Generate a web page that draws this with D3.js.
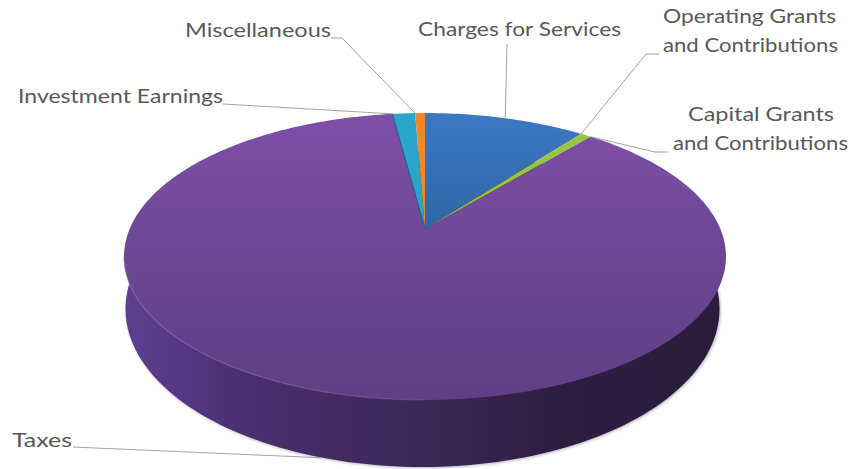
<!DOCTYPE html>
<html>
<head>
<meta charset="utf-8">
<script src="https://cdn.jsdelivr.net/npm/d3@7/dist/d3.min.js"></script>
<style>
  html, body { margin: 0; padding: 0; background: #fff; }
  svg { display: block; }
  text { font-family: Lato, "Liberation Sans", sans-serif; fill: #595959; font-size: 20px; }
</style>
</head>
<body>
<svg id="chart" width="855" height="469"></svg>
<script>
// Revenue shares by source, percent of the total
const categories = ["Charges for Services", "Operating Grants and Contributions", "Capital Grants and Contributions", "Taxes", "Investment Earnings", "Miscellaneous"];
const shares = [10.4, 0.05, 0.65, 86.8, 1.46, 0.64];
const sliceColors = ["url(#blueFace)", "#c0504d", "#93c83d", "url(#purpleFace)", "#2aa5cc", "#f0882a"];

// Where each callout sits: wrapped text lines, leader elbow and which edge of the slice it points to
const callouts = [
  { lines: [{ t: "Charges for Services", x: 418, y: 36, w: 203 }], path: [[507, 44]], edge: "mid", plane: "top" },
  { lines: [{ t: "Operating Grants", x: 663, y: 23, w: 173 }, { t: "and Contributions", x: 663, y: 52, w: 175 }], path: [[659, 54], [646, 54]], edge: "mid", plane: "top" },
  { lines: [{ t: "Capital Grants", x: 688, y: 121, w: 146 }, { t: "and Contributions", x: 673, y: 150, w: 175 }], path: [[668, 152], [655, 152]], edge: "end", plane: "top" },
  { lines: [{ t: "Taxes", x: 12, y: 447, w: 60 }], path: [[73, 447], [95, 448]], edge: "mid", plane: "base" },
  { lines: [{ t: "Investment Earnings", x: 18, y: 103, w: 205 }], path: [[223, 104]], edge: "start", plane: "top" },
  { lines: [{ t: "Miscellaneous", x: 185, y: 37, w: 146 }], path: [[331, 38], [342, 38]], edge: "start", plane: "top" }
];

// Perspective planes of the disc: top face and the lower rim
const planes = {
  top:  { cx: 425, cy: 229, rx: 295.4, ry: 138.2, k: 0.1916 },
  base: { cx: 422.5, cy: 278.7, rx: 291.5, ry: 152.2, k: 0.1916 }
};

function project(angle, plane, radius = 1) {
  const p = planes[plane];
  const X = Math.sin(angle) * radius, Y = Math.cos(angle) * radius;
  const w = 1 + p.k * Y;
  return [p.cx + p.rx * X / w, p.cy - p.ry * Y / w];
}

const svg = d3.select("#chart");
const defs = svg.append("defs");

function linearGradient(id, x1, y1, x2, y2, stops) {
  const g = defs.append("linearGradient").attr("id", id).attr("gradientUnits", "userSpaceOnUse")
    .attr("x1", x1).attr("y1", y1).attr("x2", x2).attr("y2", y2);
  stops.forEach(s => g.append("stop").attr("offset", s[0]).attr("stop-color", s[1]).attr("stop-opacity", s[2] ?? 1));
}
linearGradient("purpleFace", 0, 113, 0, 400, [[0, "#7f4fa8"], [0.5, "#6c4794"], [1, "#5f3f84"]]);
linearGradient("blueFace", 0, 113, 0, 229, [[0, "#3b79c4"], [1, "#2f66a6"]]);
linearGradient("wall", 122, 0, 725, 0, [[0, "#5f3f90"], [0.1, "#553785"], [0.2, "#4a2f70"], [0.35, "#432b62"], [0.55, "#3a2554"], [0.72, "#2d1d40"], [1, "#2b1c3b"]]);
linearGradient("rimLight", 122, 0, 725, 0, [[0, "#8a70b0", 0.7], [0.4, "#8a70b0", 0.5], [0.6, "#8a70b0", 0]]);

const softShadow = defs.append("filter").attr("id", "soft").attr("x", "-5%").attr("y", "-5%").attr("width", "110%").attr("height", "110%");
softShadow.append("feGaussianBlur").attr("stdDeviation", 1.6);

const line = d3.line();
const sweep = (a0, a1, plane, n = 90) => d3.range(n + 1).map(i => project(a0 + (a1 - a0) * i / n, plane));

// Outer wall: the lower rim's full outline, with the top face laid over it
const tangent = Math.acos(-planes.top.k);
const wallPoints = sweep(0, 2 * Math.PI, "base", 240);
svg.append("path").attr("d", line(wallPoints) + "Z").attr("fill", "#5a5a6a").attr("opacity", 0.45)
  .attr("filter", "url(#soft)").attr("transform", "translate(1,1)");
svg.append("path").attr("d", line(wallPoints) + "Z").attr("fill", "url(#wall)");

// Top face slices
const arcs = d3.pie().sort(null).startAngle(0).endAngle(2 * Math.PI)(shares);
const apex = project(0, "top", 0);
svg.append("g").selectAll("path").data(arcs).join("path")
  .attr("d", d => {
    const n = Math.max(4, Math.ceil((d.endAngle - d.startAngle) * 60));
    return line([apex].concat(sweep(d.startAngle, d.endAngle, "top", n))) + "Z";
  })
  .attr("fill", (d, i) => sliceColors[i]);

// Dark seam where the cyan slice meets the purple one, and the pale front rim
svg.append("path").attr("d", line([apex, project(arcs[4].startAngle, "top")]))
  .attr("stroke", "#2b5f92").attr("stroke-width", 1.2).attr("fill", "none");
svg.append("path").attr("d", line(sweep(Math.PI, 2 * Math.PI - tangent, "top", 100)))
  .attr("stroke", "url(#rimLight)").attr("stroke-width", 1.2).attr("fill", "none");

// Leader lines and labels
const leaders = svg.append("g").attr("fill", "none").attr("stroke", "#a3a3a3").attr("stroke-width", 1);
callouts.forEach((c, i) => {
  const a = arcs[i];
  const angle = c.edge === "mid" ? (a.startAngle + a.endAngle) / 2 : c.edge === "start" ? a.startAngle : a.endAngle;
  leaders.append("path").attr("d", line(c.path.concat([project(angle, c.plane)])));
  c.lines.forEach(l => {
    svg.append("text").attr("x", l.x).attr("y", l.y)
      .attr("textLength", l.w).attr("lengthAdjust", "spacingAndGlyphs").text(l.t);
  });
});
</script>
</body>
</html>
